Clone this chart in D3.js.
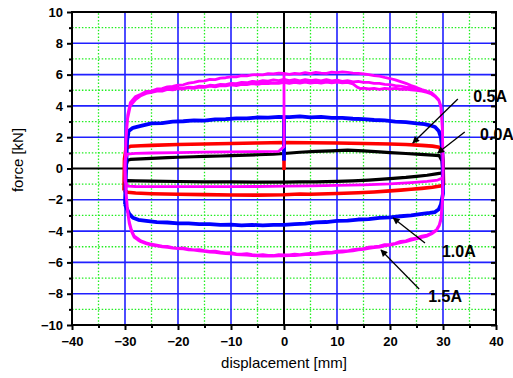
<!DOCTYPE html>
<html>
<head>
<meta charset="utf-8">
<script src="https://cdn.jsdelivr.net/npm/d3@7"></script>
<style>
  body { margin: 0; background: #fff; }
  svg { display: block; font-family: "Liberation Sans", Arial, sans-serif; }
</style>
</head>
<body>
<svg id="chart" width="513" height="378"></svg>
<script>
// axis ticks
var xMajor = [-40, -30, -20, -10, 0, 10, 20, 30, 40];
var xMinor = [-35, -25, -15, -5, 5, 15, 25, 35];
var yMajor = [-10, -8, -6, -4, -2, 0, 2, 4, 6, 8, 10];
var yMinor = [-9, -7, -5, -3, -1, 1, 3, 5, 7, 9];

// 0.0A (black)
var blackUp = [[-30,-0.8],[-29.8,0.2],[-29.5,0.52],[-29,0.58],[-27,0.62],[-25,0.65],[-22,0.69],[-20,0.72],[-17,0.75],[-15,0.78],[-12,0.8],[-10,0.82],[-7,0.85],[-5,0.88],[-2,0.91],[0,0.96],[3,1.04],[6,1.09],[9,1.13],[12,1.17],[15,1.12],[18,1.06],[20,1.02],[23,0.96],[25,0.92],[28,0.86],[29.3,0.82],[29.8,0.5],[30,-0.2]];
var blackLow = [[30,-0.2],[29.6,-0.3],[28.7,-0.34],[27,-0.43],[25,-0.5],[23,-0.57],[20,-0.65],[18,-0.7],[16,-0.74],[13,-0.79],[10,-0.82],[6,-0.85],[3,-0.86],[0,-0.87],[-5,-0.87],[-10,-0.86],[-15,-0.85],[-20,-0.83],[-25,-0.81],[-28,-0.79],[-29.5,-0.78],[-30,-0.8]];

// 0.5A (red)
var redStart = [[0,-0.1],[0,1.66]];
var redUp = [[-30.2,-1.4],[-30.1,0.6],[-29.8,1.3],[-29,1.42],[-27,1.45],[-25,1.48],[-20,1.53],[-15,1.57],[-10,1.6],[-5,1.63],[0,1.66],[5,1.65],[10,1.63],[15,1.6],[20,1.57],[23,1.53],[26,1.48],[28,1.43],[29.3,1.36],[29.8,1.1],[30,0.5],[30.1,-1.0]];
var redLow = [[30.1,-1.0],[29.5,-1.12],[28,-1.2],[26,-1.27],[24,-1.33],[22,-1.38],[20,-1.43],[17,-1.5],[14,-1.55],[10,-1.6],[5,-1.65],[3,-1.63],[0,-1.68],[-5,-1.7],[-10,-1.69],[-15,-1.67],[-20,-1.65],[-25,-1.61],[-28,-1.57],[-29.5,-1.52],[-30.2,-1.4]];

// 1.0A (blue)
var blueStart = [[0,0.5],[0,3.3]];
var blueUp = [[-30,-2.3],[-29.8,0],[-29.6,1.8],[-29.3,2.4],[-28.5,2.6],[-27,2.72],[-25,2.88],[-23,2.9],[-21,3.0],[-19,3.02],[-17,3.07],[-15,3.06],[-13,3.14],[-11,3.15],[-9,3.2],[-7,3.2],[-5,3.26],[-3,3.25],[-1,3.3],[1,3.28],[3,3.33],[5,3.27],[7,3.3],[9,3.24],[11,3.24],[13,3.18],[15,3.16],[17,3.1],[19,3.07],[21,3.0],[23,2.96],[25,2.88],[26.5,2.84],[27.5,2.76],[28.5,2.65],[29.2,2.4],[29.6,2.0],[29.9,1.0],[30,-1.6]];
var blueLow = [[30,-1.6],[29.6,-2.3],[29.2,-2.6],[28.5,-2.78],[27.5,-2.84],[26,-2.9],[24,-3.0],[22,-3.05],[20,-3.12],[18,-3.16],[16,-3.24],[14,-3.26],[12,-3.33],[10,-3.35],[8,-3.42],[6,-3.44],[4,-3.52],[2,-3.55],[0,-3.6],[-2,-3.6],[-4,-3.64],[-6,-3.6],[-8,-3.63],[-10,-3.58],[-12,-3.6],[-14,-3.55],[-16,-3.56],[-18,-3.51],[-20,-3.5],[-22,-3.45],[-24,-3.43],[-26,-3.34],[-27.5,-3.28],[-28.5,-3.15],[-29.2,-2.9],[-29.6,-2.6],[-30,-2.3]];

// 1.5A (magenta): run-in cycle, then switch-on at x = 0 and three cycles
var magentaRunIn = [[30,-0.6],[29,-0.74],[27,-0.82],[24,-0.9],[20,-0.98],[15,-1.04],[10,-1.08],[5,-1.11],[0,-1.13],[-5,-1.15],[-10,-1.16],[-15,-1.16],[-20,-1.16],[-25,-1.16],[-28,-1.15],[-29.5,-1.12],[-30,-0.8],[-30,0.5],[-29.6,0.92],[-28,0.97],[-25,0.99],[-20,1.02],[-15,1.04],[-10,1.06],[-5,1.08],[-1,1.1],[0,1.4],[0,6.1]];
var magentaUpA = [[-30,0],[-29.8,2.0],[-29.5,3.4],[-29,4.2],[-28,4.6],[-27,4.75],[-26,4.92],[-25,4.95],[-24,5.08],[-23,5.1],[-22,5.22],[-21,5.25],[-20,5.33],[-19,5.35],[-18,5.45],[-17,5.5],[-16,5.58],[-15,5.6],[-14,5.7],[-13,5.68],[-12,5.78],[-11,5.8],[-10,5.86],[-9,5.85],[-8,5.93],[-7,5.92],[-6,5.98],[-5,6.0],[-4,5.98],[-3,6.06],[-2,6.04],[-1,6.1],[0,6.08],[1,6.02],[2,6.08],[3,6.04],[4,6.12],[5,6.06],[6,6.14],[7,6.1],[8,6.08],[9,6.16],[10,6.12],[11,6.18],[12,6.14],[13,6.1],[14,6.08],[15,6.04],[16,6.0],[17,5.94],[18,5.9],[19,5.82],[20,5.75],[21,5.66],[22,5.55],[23,5.44],[24,5.3],[25,5.18],[26,5.05],[27,4.93],[27.8,4.85],[28.5,4.65],[29.2,4.4],[29.6,4.0],[29.9,2.5],[30,0]];
var magentaUpB = [[-30,0],[-29.8,2.0],[-29.5,3.3],[-29,4.1],[-28,4.5],[-27,4.72],[-26,4.85],[-25,4.92],[-24,5.0],[-23,4.98],[-22,5.1],[-21,5.08],[-20,5.15],[-19,5.14],[-18,5.2],[-17,5.18],[-16,5.26],[-15,5.24],[-14,5.32],[-13,5.3],[-12,5.38],[-11,5.36],[-10,5.44],[-9,5.42],[-8,5.5],[-7,5.48],[-6,5.56],[-5,5.54],[-4,5.62],[-3,5.58],[-2,5.66],[-1,5.62],[0,5.7],[1,5.62],[2,5.68],[3,5.6],[4,5.68],[5,5.62],[6,5.66],[7,5.6],[8,5.68],[9,5.6],[10,5.64],[11,5.56],[12,5.62],[13,5.54],[14,5.56],[15,5.5],[16,5.5],[17,5.44],[18,5.44],[19,5.38],[20,5.36],[21,5.3],[22,5.26],[23,5.2],[24,5.15],[25,5.08],[26,5.0],[27,4.9],[27.8,4.8],[28.5,4.62],[29.2,4.35],[29.6,3.9],[29.9,2.4],[30,0]];
var magentaUpC = [[-30,0],[-29.8,1.9],[-29.5,3.2],[-29,4.0],[-28,4.4],[-27,4.65],[-26,4.8],[-25,4.86],[-24,4.95],[-23,4.94],[-22,5.05],[-21,5.02],[-20,5.1],[-19,5.08],[-18,5.16],[-17,5.12],[-16,5.2],[-15,5.18],[-14,5.26],[-13,5.22],[-12,5.3],[-11,5.28],[-10,5.34],[-9,5.3],[-8,5.38],[-7,5.36],[-6,5.42],[-5,5.38],[-4,5.44],[-3,5.42],[-2,5.46],[-1,5.44],[0,5.5],[1,5.44],[2,5.5],[3,5.46],[4,5.52],[5,5.46],[6,5.5],[7,5.46],[8,5.52],[9,5.48],[10,5.52],[11,5.48],[12,5.5],[13,5.4],[13.8,5.2],[14.5,5.1],[15,5.14],[16,5.08],[17,5.12],[18,5.06],[19,5.12],[20,5.08],[21,5.12],[22,5.06],[23,5.08],[24,5.02],[25,5.0],[26,4.94],[27,4.86],[27.8,4.76],[28.5,4.6],[29.2,4.35],[29.6,3.9],[29.9,2.4],[30,0]];
var magentaLow1 = [[30,0],[29.9,-2.0],[29.6,-3.2],[29.3,-3.6],[28.8,-3.9],[28,-4.1],[27,-4.25],[26,-4.32],[25,-4.45],[24,-4.5],[23,-4.62],[22,-4.66],[21,-4.78],[20,-4.85],[19,-4.86],[18,-4.96],[17,-5.0],[16,-5.02],[15,-5.12],[14,-5.15],[13,-5.18],[12,-5.26],[11,-5.27],[10,-5.28],[9,-5.36],[8,-5.35],[7,-5.38],[6,-5.44],[5,-5.42],[4,-5.46],[3,-5.5],[2,-5.48],[1,-5.52],[0,-5.52],[-1,-5.5],[-2,-5.56],[-3,-5.55],[-4,-5.5],[-5,-5.54],[-6,-5.5],[-7,-5.44],[-8,-5.48],[-9,-5.45],[-10,-5.38],[-11,-5.4],[-12,-5.35],[-13,-5.28],[-14,-5.3],[-15,-5.25],[-16,-5.18],[-17,-5.2],[-18,-5.15],[-19,-5.08],[-20,-5.1],[-21,-5.05],[-22,-4.98],[-23,-4.96],[-24,-4.9],[-25,-4.84],[-26,-4.75],[-27,-4.62],[-27.5,-4.5],[-28.3,-4.3],[-28.8,-3.9],[-29.2,-3.4],[-29.5,-2.7],[-29.8,-1.5],[-30,0]];
var magentaLow2 = [[30,0],[29.9,-2.1],[29.6,-3.3],[29.3,-3.65],[28.8,-3.95],[28,-4.15],[27,-4.32],[26,-4.4],[25,-4.5],[24,-4.58],[23,-4.68],[22,-4.74],[21,-4.82],[20,-4.9],[19,-4.94],[18,-5.02],[17,-5.06],[16,-5.1],[15,-5.16],[14,-5.2],[13,-5.26],[12,-5.3],[11,-5.34],[10,-5.36],[9,-5.4],[8,-5.42],[7,-5.46],[6,-5.48],[5,-5.5],[4,-5.5],[3,-5.54],[2,-5.56],[1,-5.56],[0,-5.58],[-1,-5.58],[-2,-5.6],[-3,-5.58],[-4,-5.6],[-5,-5.58],[-6,-5.56],[-7,-5.54],[-8,-5.52],[-9,-5.5],[-10,-5.46],[-11,-5.44],[-12,-5.4],[-13,-5.36],[-14,-5.34],[-15,-5.3],[-16,-5.26],[-17,-5.22],[-18,-5.2],[-19,-5.14],[-20,-5.12],[-21,-5.08],[-22,-5.04],[-23,-5.0],[-24,-4.95],[-25,-4.9],[-26,-4.8],[-27,-4.68],[-27.5,-4.58],[-28.3,-4.38],[-28.8,-4.0],[-29.2,-3.5],[-29.5,-2.8],[-29.8,-1.6],[-30,0]];

var labels = ["0.5A", "0.0A", "1.0A", "1.5A"];
var labelX = [35.7, 37.0, 29.8, 27.2];
var labelY = [4.25, 1.82, -5.65, -8.53];
var arrowFrom = [[32.8, 4.44], [34.1, 2.33], [26.6, -4.76], [25.5, -7.7]];
var arrowTo = [[24.3, 1.63], [29.0, 0.99], [20.6, -3.16], [18.3, -5.21]];

var svg = d3.select("#chart");
var x = d3.scaleLinear().domain([-40, 40]).range([72, 496]);
var y = d3.scaleLinear().domain([-10, 10]).range([325, 12]);

var grid = svg.append("g");
// minor grid, green dotted
grid.selectAll(".gx").data(xMinor).enter().append("line")
  .attr("x1", d => x(d)).attr("x2", d => x(d)).attr("y1", y(-10)).attr("y2", y(10))
  .attr("stroke", "#22ee22").attr("stroke-width", 1.3).attr("stroke-dasharray", "1.5,1.8");
grid.selectAll(".gy").data(yMinor).enter().append("line")
  .attr("y1", d => y(d)).attr("y2", d => y(d)).attr("x1", x(-40)).attr("x2", x(40))
  .attr("stroke", "#22ee22").attr("stroke-width", 1.3).attr("stroke-dasharray", "1.5,1.8");
// major grid, blue
grid.selectAll(".bx").data(xMajor.filter(d => d != 0 && Math.abs(d) != 40)).enter().append("line")
  .attr("x1", d => x(d)).attr("x2", d => x(d)).attr("y1", y(-10)).attr("y2", y(10))
  .attr("stroke", "#2020ff").attr("stroke-width", 1.6);
grid.selectAll(".by").data(yMajor.filter(d => d != 0 && Math.abs(d) != 10)).enter().append("line")
  .attr("y1", d => y(d)).attr("y2", d => y(d)).attr("x1", x(-40)).attr("x2", x(40))
  .attr("stroke", "#2020ff").attr("stroke-width", 1.6);
// zero lines
grid.append("line").attr("x1", x(0)).attr("x2", x(0)).attr("y1", y(-10)).attr("y2", y(10))
  .attr("stroke", "#000").attr("stroke-width", 2);
grid.append("line").attr("y1", y(0)).attr("y2", y(0)).attr("x1", x(-40)).attr("x2", x(40))
  .attr("stroke", "#000").attr("stroke-width", 2);

var line = d3.line().x(d => x(d[0])).y(d => y(d[1]));

var series = [
  { name: "black", color: "#000000", w: 3.2, paths: [blackUp.concat(blackLow)] },
  { name: "red", color: "#ff0000", w: 3.6, paths: [redStart, redUp.concat(redLow)] },
  { name: "blue", color: "#0000ff", w: 3.8, paths: [blueStart, blueUp.concat(blueLow)] },
  { name: "magenta", color: "#ff00ff", w: 2.8, paths: [
      magentaUpA.filter(d => d[0] >= 0).concat(magentaLow1, magentaUpB, magentaLow2, magentaUpC, magentaLow1, magentaUpA.filter(d => d[0] <= 0)),
      magentaRunIn
  ] }
];

series.forEach(function(s) {
  var g = svg.append("g").attr("class", s.name);
  s.paths.forEach(function(p) {
    g.append("path")
      .attr("d", line(p))
      .attr("fill", "none")
      .attr("stroke", s.color)
      .attr("stroke-width", s.w)
      .attr("stroke-linejoin", "round");
  });
});

// frame
svg.append("rect").attr("x", x(-40)).attr("y", y(10))
  .attr("width", x(40) - x(-40)).attr("height", y(-10) - y(10))
  .attr("fill", "none").attr("stroke", "#000").attr("stroke-width", 2);

// axes
var xAxis = d3.axisBottom(x).tickValues(xMajor).tickSize(5).tickPadding(4).tickFormat(d3.format("d"));
var yAxis = d3.axisLeft(y).tickValues(yMajor).tickSize(5).tickPadding(4).tickFormat(d3.format("d"));
var gx = svg.append("g").attr("transform", "translate(0," + y(-10) + ")").call(xAxis);
var gy = svg.append("g").attr("transform", "translate(" + x(-40) + ",0)").call(yAxis);
svg.append("g").attr("transform", "translate(0," + y(-10) + ")")
  .call(d3.axisBottom(x).tickValues(xMinor).tickSize(3).tickFormat(""));
svg.append("g").attr("transform", "translate(" + x(-40) + ",0)")
  .call(d3.axisLeft(y).tickValues(yMinor).tickSize(3).tickFormat(""));
svg.append("g").attr("transform", "translate(" + x(40) + ",0)")
  .call(d3.axisRight(y).tickValues(yMajor).tickSize(-5).tickFormat(""));
svg.append("g").attr("transform", "translate(" + x(40) + ",0)")
  .call(d3.axisRight(y).tickValues(yMinor).tickSize(-3).tickFormat(""));
svg.selectAll(".domain").remove();
svg.selectAll(".tick line").attr("stroke", "#000").attr("stroke-width", 2);
svg.selectAll(".tick text").attr("fill", "#000").style("font-size", "13px")
  .style("font-weight", "bold")
  .style("font-family", "'Liberation Sans', Arial, sans-serif");
gx.selectAll(".tick text").attr("dy", "0.95em");

// axis titles
svg.append("text").attr("x", x(0)).attr("y", 368).attr("text-anchor", "middle")
  .style("font-size", "15px").text("displacement [mm]");
svg.append("text").attr("transform", "translate(23," + 160 + ") rotate(-90)")
  .attr("text-anchor", "middle").style("font-size", "15px").text("force [kN]");

// annotations
svg.append("defs").append("marker").attr("id", "ah")
  .attr("viewBox", "0 0 10 10").attr("refX", 9).attr("refY", 5)
  .attr("markerWidth", 9).attr("markerHeight", 7).attr("markerUnits", "userSpaceOnUse")
  .attr("orient", "auto")
  .append("path").attr("d", "M0,0L10,5L0,10z").attr("fill", "#000");

svg.append("g").selectAll("line").data(arrowFrom).enter().append("line")
  .attr("x1", d => x(d[0])).attr("y1", d => y(d[1]))
  .attr("x2", (d, i) => x(arrowTo[i][0])).attr("y2", (d, i) => y(arrowTo[i][1]))
  .attr("stroke", "#000").attr("stroke-width", 1.3).attr("marker-end", "url(#ah)");

svg.append("g").selectAll("text").data(labels).enter().append("text")
  .attr("x", (d, i) => x(labelX[i])).attr("y", (d, i) => y(labelY[i]))
  .style("font-size", "16px").style("font-weight", "bold").attr("fill", "#000").text(d => d);
</script>
</body>
</html>
